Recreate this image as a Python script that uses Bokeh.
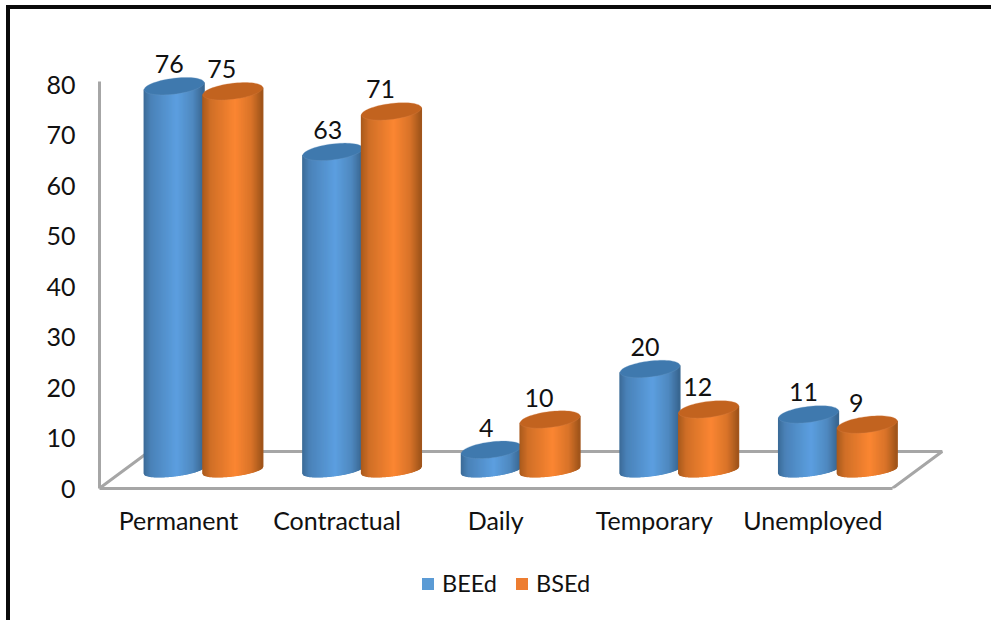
import numpy as np
from bokeh.plotting import figure
from bokeh.layouts import column
from bokeh.models import Range1d, FixedTicker, Legend, LegendItem, ColumnDataSource
from bokeh.core.properties import value
from bokeh.embed import file_html
from bokeh.resources import INLINE

categories = ["Permanent", "Contractual", "Daily", "Temporary", "Unemployed"]
beed = [76, 63, 4, 20, 11]
bsed = [75, 71, 10, 12, 9]
y_ticks = [0, 10, 20, 30, 40, 50, 60, 70, 80]

BX, BY = 10, 9               # window position of the inner corner of the black rules
W, H = 991 - BX, 620 - BY
FRAME_L, FRAME_B = 99 - BX, 488 - BY
BELOW = 56
PX_X, PX_Y = 158.6, 5.05      # pixels per category, per y unit
FONT = "Lato"
FS = "25px"
GRAY = "#A6A6A6"

x0 = (99 - 178) / PX_X
x1 = (991 - 178) / PX_X
y1 = FRAME_B / PX_Y

p = figure(width=W, height=FRAME_B + BELOW, output_backend="svg", toolbar_location=None,
           x_range=Range1d(x0, x1), y_range=Range1d(0, y1),
           min_border_left=FRAME_L, min_border_right=0, min_border_top=0,
           min_border_bottom=BELOW, background_fill_color="white",
           border_fill_color="white", outline_line_color=None)
p.grid.visible = False

# axes
ax = p.yaxis[0]
ax.ticker = FixedTicker(ticks=y_ticks)
ax.bounds = (0, 80.6)
ax.axis_line_color = GRAY
ax.axis_line_width = 3
ax.major_tick_line_color = None
ax.minor_tick_line_color = None
ax.major_tick_out = 0
ax.major_tick_in = 0
ax.major_label_standoff = 24
ax.major_label_text_font = FONT
ax.major_label_text_font_size = FS
ax.major_label_text_color = "#111111"

bx = p.xaxis[0]
bx.ticker = FixedTicker(ticks=list(range(len(categories))))
bx.major_label_overrides = {i: c for i, c in enumerate(categories)}
bx.bounds = (-0.5, len(categories) - 0.5)
bx.axis_line_color = GRAY
bx.axis_line_width = 3
bx.major_tick_line_color = None
bx.minor_tick_line_color = None
bx.major_tick_out = 0
bx.major_tick_in = 0
bx.major_label_standoff = 16
bx.major_label_text_font = FONT
bx.major_label_text_font_size = FS
bx.major_label_text_color = "#111111"

# floor of the 3D box
dx, dy = 50 / PX_X, 37 / PX_Y
lo, hi = -0.5, len(categories) - 0.5
p.line([lo, lo + dx, hi + dx, hi], [0, dy, dy, 0], line_color=GRAY, line_width=3)

# cylinders
def hex2rgb(h):
    return np.array([int(h[i:i + 2], 16) for i in (1, 3, 5)], float)

def shade(stops, t):
    pos = [s[0] for s in stops]
    c = [np.interp(t, pos, [hex2rgb(s[1])[k] for s in stops]) for k in range(3)]
    return "#%02x%02x%02x" % tuple(int(round(v)) for v in c)

BLUE = [(0, "#3B6A96"), (0.12, "#4A82B8"), (0.55, "#5C9FE0"), (0.82, "#4F89C0"), (1, "#38658F")]
ORANGE = [(0, "#A8591C"), (0.14, "#D06F27"), (0.55, "#FB8632"), (0.82, "#D87329"), (1, "#9E541A")]
CAP = {"b": "#3F79AE", "o": "#C2631F"}
rx = 30 / PX_X
ry = 8 / PX_Y
ry_base = 6 / PX_Y
shear = 3.5 / PX_Y
base = dy / 2
N = 60

def cylinder(cx, val, stops, cap):
    xs, ys, cs = [], [], []
    us = np.linspace(-1, 1, N + 1)
    for a, b in zip(us[:-1], us[1:]):
        ya = -ry_base * np.sqrt(1 - a * a) + shear * a
        yb = -ry_base * np.sqrt(1 - b * b) + shear * b
        top = base + val
        xs.append([cx + rx * a, cx + rx * b, cx + rx * b, cx + rx * a])
        ys.append([base + ya, base + yb, top + shear * b, top + shear * a])
        c = shade(stops, (a + b) / 4 + 0.5)
        cs.append(c)
    src = ColumnDataSource(dict(xs=xs, ys=ys, c=cs))
    p.patches("xs", "ys", source=src, fill_color="c", line_color="c", line_width=1.2)
    th = np.linspace(0, 2 * np.pi, 72)
    p.patch(cx + rx * np.cos(th), base + val + ry * np.sin(th) + shear * np.cos(th),
            fill_color=cap, line_color="#6A9AC6" if cap == CAP["b"] else "#D98449",
            line_width=0.5, line_alpha=0.6)

off = 0.185
for i in range(len(categories)):
    cx = i + dx / 2
    cylinder(cx - off, beed[i], BLUE, CAP["b"])
    cylinder(cx + off, bsed[i], ORANGE, CAP["o"])

# data labels
xc = np.arange(len(categories)) + dx / 2
common = dict(text_font=value(FONT), text_font_size=value(FS), text_color="#111111",
              text_align="center", text_baseline="middle")
p.text(xc - off, np.array(beed) + base, text=[str(v) for v in beed], x_offset=-5, y_offset=-22, **common)
p.text(xc + off, np.array(bsed) + base, text=[str(v) for v in bsed], x_offset=-11, y_offset=-22, **common)

# legend, in its own strip below the plot
q = figure(width=W, height=H - FRAME_B - BELOW, output_backend="svg", toolbar_location=None,
           x_range=Range1d(0, 1), y_range=Range1d(0, 1), min_border=0,
           background_fill_color="white", border_fill_color="white", outline_line_color=None)
q.axis.visible = False
q.grid.visible = False
nan = float("nan")
r1 = q.quad(left=[nan], right=[nan], top=[nan], bottom=[nan], fill_color="#5B9BD5", line_color=None)
r2 = q.quad(left=[nan], right=[nan], top=[nan], bottom=[nan], fill_color="#ED7D31", line_color=None)
legend = Legend(items=[LegendItem(label="BEEd", renderers=[r1]), LegendItem(label="BSEd", renderers=[r2])],
                orientation="horizontal", location=(321, 23), padding=0, margin=0, spacing=17,
                glyph_width=15, glyph_height=15, label_standoff=7, label_text_font=FONT,
                label_text_font_size="23.5px", label_text_color="#111111", border_line_color=None,
                background_fill_alpha=0)
q.add_layout(legend)

page = column(p, q, spacing=0)
page.margin = (5, 0, 0, 6)
page.styles = {"border-top": "4px solid #0A0A0A", "border-left": "4px solid #0A0A0A"}

open("out.html", "w").write(file_html(page, INLINE))
